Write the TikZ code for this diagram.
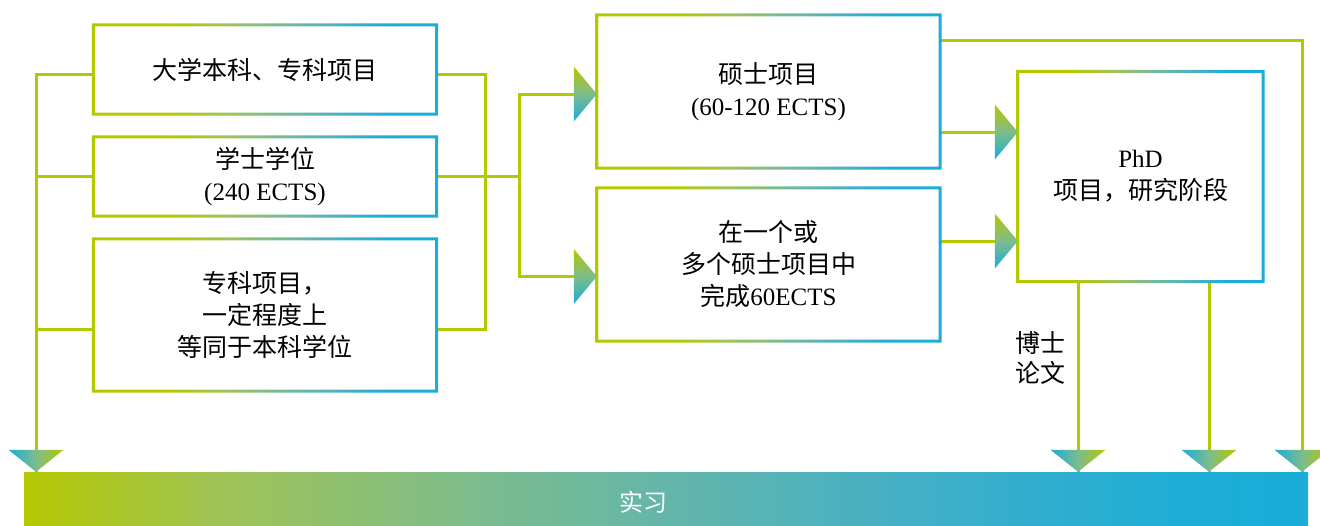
\documentclass[tikz,border=0pt]{standalone}
\usepackage{fontspec}
\setmainfont{Liberation Serif}
\newfontfamily\cjk{Noto Sans CJK SC}
\definecolor{lgreen}{RGB}{180,200,0}
\definecolor{lblue}{RGB}{26,173,216}
\definecolor{cA}{RGB}{160,195,85}
\definecolor{cB}{RGB}{125,188,140}
\definecolor{cC}{RGB}{100,182,170}
\definecolor{cD}{RGB}{65,175,200}
\definecolor{cE}{RGB}{30,173,215}
\pgfdeclarehorizontalshading{barshade}{100bp}{color(0bp)=(lgreen); color(25bp)=(lgreen); color(32.5bp)=(cA); color(42.5bp)=(cB); color(50bp)=(cC); color(60bp)=(cD); color(70bp)=(cE); color(75bp)=(lblue); color(100bp)=(lblue)}
\pgfdeclarehorizontalshading{frameshade}{100bp}{color(0bp)=(lgreen); color(25bp)=(lgreen); color(36bp)=(lgreen); color(44bp)=(cA); color(51bp)=(cB); color(56bp)=(cC); color(62bp)=(cD); color(68bp)=(lblue); color(100bp)=(lblue)}
\pgfdeclareverticalshading{trivert}{100bp}{color(0bp)=(lblue); color(25bp)=(lblue); color(50bp)=(cB); color(75bp)=(lgreen); color(100bp)=(lgreen)}
\pgfdeclarehorizontalshading{trihoriz}{100bp}{color(0bp)=(lblue); color(25bp)=(lblue); color(50bp)=(cB); color(75bp)=(lgreen); color(100bp)=(lgreen)}
\newcommand\gframe[1]{%
  \shade[shading=frameshade,even odd rule]
    ([xshift=-1.5pt,yshift=1.5pt]#1.north west) rectangle ([xshift=1.5pt,yshift=-1.5pt]#1.south east)
    ([xshift=1.5pt,yshift=-1.5pt]#1.north west) rectangle ([xshift=-1.5pt,yshift=1.5pt]#1.south east);}
\newcommand\rtri[1]{\shade[shading=trivert] (#1) -- ++(-23,-27.5) -- ++(0,55) -- cycle;}
\newcommand\dtri[1]{\shade[shading=trihoriz] (#1) -- ++(-27.5,-22) -- ++(55,0) -- cycle;}
\begin{document}
\begin{tikzpicture}[x=1pt,y=-1pt,
  box/.style={draw=none,inner sep=0pt,align=center,minimum width=343pt,
    font=\fontsize{25}{32}\selectfont},
  conn/.style={draw=lgreen,line width=3pt},
  lbl/.style={inner sep=0pt,align=center,font=\fontsize{25}{30}\selectfont}]
\useasboundingbox (0,0) rectangle (1320,525);

% boxes
\node[box,minimum height=89pt] (A) at (265,69.5) {\cjk 大学本科、专科项目};
\node[box,minimum height=79pt] (B) at (265,176.5) {{\cjk 学士学位}\\(240 ECTS)};
\node[box,minimum height=152pt] (C) at (265,315) {{\cjk 专科项目，}\\{\cjk 一定程度上}\\{\cjk 等同于本科学位}};
\node[box,minimum height=153pt] (D) at (768.5,91.5) {{\cjk 硕士项目}\\(60-120 ECTS)};
\node[box,minimum height=153pt] (E) at (768.5,264.5) {{\cjk 在一个或}\\{\cjk 多个硕士项目中}\\{\cjk 完成}60ECTS};
\node[box,minimum width=245pt,minimum height=210pt] (F) at (1140.5,176.5) {PhD\\{\cjk 项目，研究阶段}};

% bar
\node[inner sep=0pt,minimum width=1284pt,minimum height=56pt,shade,shading=barshade] (bar) at (666,500) {};
\node[lbl,text=white,font=\fontsize{24}{28}\selectfont] (barlabel) at (643,502) {\cjk 实习};

% label
\node[lbl] (thesis) at (1040,358) {\cjk 博士\\\cjk 论文};

% left bus
\coordinate (ltop) at (36,74);
\draw[conn] ([yshift=-4.5pt]A.west) -- (ltop) -- (ltop |- bar.north);
\draw[conn] (B.west) -- (B.west -| ltop);
\draw[conn] ([yshift=-14pt]C.west) coordinate (c1) -- (c1 -| ltop);

% right bus
\draw[conn] ([yshift=-4.5pt]A.east) -- ++(48.5,0) |- ([yshift=-14pt]C.east);
\draw[conn] (B.east) -- ++(82.5,0) coordinate (split);
\draw[conn,shorten >=22pt] (split) |- ([yshift=-2.5pt]D.west);
\draw[conn,shorten >=22pt] (split) |- ([yshift=-12pt]E.west);

% to PhD
\draw[conn,shorten >=21pt] ([yshift=-40.5pt]D.east) -- ([yshift=44.5pt]F.west);
\draw[conn,shorten >=21pt] ([yshift=23.5pt]E.east) -- ([yshift=-64.5pt]F.west);

% top right route
\coordinate (rtop) at (1302,40);
\draw[conn] ([yshift=51.5pt]D.east) -- (rtop) -- (rtop |- bar.north);

% PhD down lines
\draw[conn] ([xshift=-62.5pt]F.south) coordinate (f1) -- (f1 |- bar.north);
\draw[conn] ([xshift=68.5pt]F.south) coordinate (f2) -- (f2 |- bar.north);

% frames
\gframe{A}\gframe{B}\gframe{C}\gframe{D}\gframe{E}\gframe{F}

% arrowheads
\rtri{[yshift=-2.5pt]D.west}
\rtri{[yshift=-12pt]E.west}
\rtri{[yshift=44.5pt]F.west}
\rtri{[yshift=-64.5pt]F.west}
\dtri{ltop |- bar.north}
\dtri{f1 |- bar.north}
\dtri{f2 |- bar.north}
\dtri{rtop |- bar.north}
\end{tikzpicture}
\end{document}
